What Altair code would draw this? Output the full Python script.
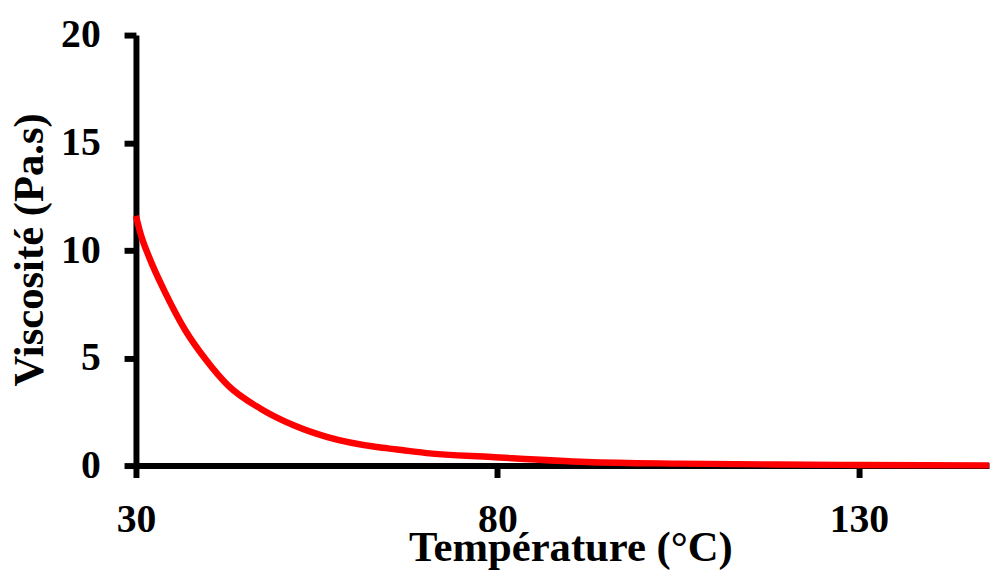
import altair as alt
import pandas as pd

temperature = [30, 30.7, 31.8, 34.1, 36.8, 39.6, 42.8, 47.3, 51.9, 56.5, 63.3, 66.1, 70.2, 79.2, 92.3, 105, 118.4, 130, 148]
viscosity = [11.6, 10.7, 9.7, 8.0, 6.3, 4.95, 3.7, 2.63, 1.86, 1.32, 0.86, 0.75, 0.58, 0.40, 0.17, 0.09, 0.05, 0.03, 0.01]
x_ticks = [30, 80, 130]
y_ticks = [0, 5, 10, 15, 20]

df = pd.DataFrame({"T": temperature, "V": viscosity})

FONT = "Liberation Serif"

chart = alt.Chart(df).mark_line(
    color="#FF0000", strokeWidth=6.5, interpolate="monotone"
).encode(
    x=alt.X("T:Q", scale=alt.Scale(domain=[30, 148], nice=False, zero=False),
            axis=alt.Axis(values=x_ticks, title="Température (°C)", grid=False,
                          domainColor="black", domainWidth=6, tickColor="black",
                          tickWidth=6, tickSize=12, labelFont=FONT, labelFontSize=40,
                          labelFontWeight="bold", labelColor="black", labelPadding=22,
                          labelFlush=False,
                          titleFont=FONT, titleFontSize=43, titleFontWeight="bold",
                          titleColor="black", titleX=438, titleY=96,
                          titleBaseline="alphabetic", titleAnchor="middle", titleAlign="center")),
    y=alt.Y("V:Q", scale=alt.Scale(domain=[0, 20], nice=False),
            axis=alt.Axis(values=y_ticks, title="Viscosité (Pa.s)", grid=False,
                          domainColor="black", domainWidth=6, tickColor="black",
                          tickWidth=6, tickSize=12, labelFont=FONT, labelFontSize=40,
                          labelFontWeight="bold", labelColor="black", labelPadding=24,
                          labelFlush=False,
                          titleFont=FONT, titleFontSize=43, titleFontWeight="bold",
                          titleColor="black", titleX=-107, titleY=216, titleAngle=-90,
                          titleBaseline="middle", titleAlign="center")),
).properties(
    width=860, height=434,
    autosize=alt.AutoSizeParams(type="none"),
    padding={"left": 129, "top": 25, "right": 2, "bottom": 105},
).configure_view(stroke=None)

chart.save("out.html", embed_options={"renderer": "svg", "actions": False})
